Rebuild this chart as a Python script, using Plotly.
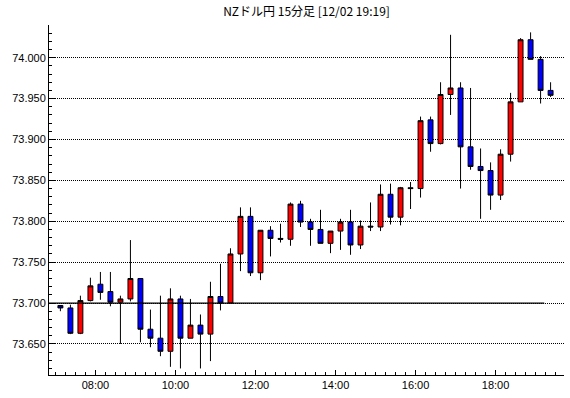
import plotly.graph_objects as go

title = "NZドル円 15分足 [12/02 19:19]"
day = "2024-12-02"
# 15-minute bar start times (each bar drawn at the middle of its period)
times = [f"{h:02d}:{m:02d}" for h in range(7, 20) for m in (0, 15, 30, 45)][:50]

opens = [73.697, 73.694, 73.663, 73.703, 73.723, 73.714, 73.701, 73.705, 73.730, 73.668,
         73.657, 73.641, 73.705, 73.657, 73.673, 73.662, 73.708, 73.700, 73.760, 73.806,
         73.737, 73.789, 73.779, 73.778, 73.821, 73.799, 73.790, 73.773, 73.788, 73.799,
         73.771, 73.794, 73.793, 73.833, 73.805, 73.841, 73.840, 73.924, 73.895, 73.955,
         73.963, 73.891, 73.867, 73.862, 73.832, 73.882, 73.946, 74.022, 73.998, 73.960]
highs = [73.697, 73.698, 73.709, 73.731, 73.738, 73.738, 73.709, 73.777, 73.730, 73.692,
         73.709, 73.718, 73.709, 73.705, 73.686, 73.726, 73.748, 73.767, 73.817, 73.817,
         73.789, 73.794, 73.797, 73.823, 73.825, 73.803, 73.814, 73.788, 73.803, 73.814,
         73.801, 73.823, 73.845, 73.846, 73.842, 73.848, 73.928, 73.928, 73.970, 74.028,
         73.970, 73.963, 73.889, 73.872, 73.888, 73.957, 74.024, 74.031, 74.002, 73.970]
lows = [73.690, 73.662, 73.662, 73.702, 73.704, 73.696, 73.650, 73.702, 73.652, 73.646,
        73.635, 73.622, 73.620, 73.657, 73.620, 73.629, 73.691, 73.700, 73.739, 73.733,
        73.728, 73.757, 73.774, 73.770, 73.793, 73.770, 73.773, 73.761, 73.765, 73.759,
        73.766, 73.788, 73.788, 73.796, 73.795, 73.815, 73.829, 73.885, 73.894, 73.930,
        73.840, 73.863, 73.803, 73.814, 73.826, 73.873, 73.946, 73.998, 73.944, 73.952]
closes = [73.694, 73.663, 73.703, 73.721, 73.713, 73.701, 73.705, 73.730, 73.668, 73.657,
          73.641, 73.705, 73.657, 73.673, 73.662, 73.708, 73.700, 73.760, 73.806, 73.737,
          73.789, 73.779, 73.778, 73.821, 73.799, 73.790, 73.773, 73.788, 73.799, 73.771,
          73.794, 73.793, 73.833, 73.805, 73.841, 73.840, 73.923, 73.895, 73.955, 73.963,
          73.891, 73.867, 73.862, 73.832, 73.882, 73.946, 74.022, 73.998, 73.960, 73.954]

ref_level = 73.700
ref_end = "19:13"
x_start, x_end = "06:50:24", "19:42:36"
y_range = [73.612, 74.040]

x = [f"{day} {t[:2]}:{int(t[3:]) + 7:02d}:30" for t in times]

font = dict(family="Liberation Sans, Arial, sans-serif", size=11, color="#000000")

fig = go.Figure()
fig.add_trace(go.Candlestick(
    x=x, open=opens, high=highs, low=lows, close=closes,
    increasing=dict(fillcolor="#ff0000", line=dict(color="#000000", width=1)),
    decreasing=dict(fillcolor="#0000ff", line=dict(color="#000000", width=1)),
    whiskerwidth=0, showlegend=False, hoverinfo="skip",
))

fig.add_shape(type="line", xref="x", yref="y",
              x0=f"{day} {x_start}", x1=f"{day} {ref_end}", y0=ref_level, y1=ref_level,
              line=dict(color="#000000", width=1.3), layer="above")

xr = [f"{day} {x_start}", f"{day} {x_end}"]
common_x = dict(type="date", range=xr, dtick=7200000, tick0=f"{day} 08:00",
                ticks="inside", tickcolor="#000000",
                minor=dict(dtick=900000, tick0=f"{day} 08:00", ticks="inside",
                           ticklen=3, tickcolor="#000000"),
                showgrid=False, zeroline=False, showline=True, linecolor="#000000",
                linewidth=1, fixedrange=True, automargin=False)
common_y = dict(range=y_range, dtick=0.05, tick0=73.0, ticks="inside", ticklen=6,
                tickcolor="#000000",
                minor=dict(dtick=0.01, tick0=73.0, ticks="inside", ticklen=3,
                           tickcolor="#000000"),
                zeroline=False, showline=True, linecolor="#000000", linewidth=1,
                fixedrange=True, automargin=False)

fig.update_layout(
    width=570, height=398,
    margin=dict(l=49, r=6, t=25, b=23, autoexpand=False),
    paper_bgcolor="#ffffff", plot_bgcolor="#ffffff",
    font=font,
    title=dict(text=title, x=0.5, xref="paper", xanchor="center",
               y=1 - 12 / 398, yref="container", yanchor="middle",
               font=dict(family="Noto Sans CJK JP, sans-serif", size=12, color="#000000")),
    xaxis=dict(**common_x, ticklen=5, tickformat="%H:%M", showticklabels=True,
               rangeslider=dict(visible=False), tickfont=font),
    xaxis2=dict(**common_x, ticklen=6, overlaying="x", matches="x", side="top",
                showticklabels=False),
    yaxis=dict(**common_y, tickformat=".3f", showgrid=True, gridcolor="#000000",
               gridwidth=1, griddash="1px,1px", tickfont=font, side="left",
               ticklabelstandoff=0),
    yaxis2=dict(**common_y, overlaying="y", matches="y", side="right",
                showticklabels=False, showgrid=False),
)

fig.write_html("out.html", config={"displayModeBar": False},
               post_script="document.body.style.margin='0';document.body.style.overflow='hidden';")
